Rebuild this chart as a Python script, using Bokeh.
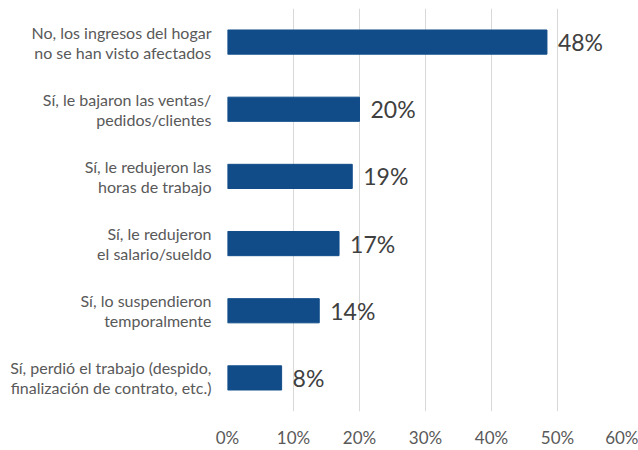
from bokeh.plotting import figure
from bokeh.models import Range1d, FactorRange, FixedTicker, ColumnDataSource
from bokeh.core.properties import value
from bokeh.embed import file_html
from bokeh.resources import INLINE

categories = [
    "No, los ingresos del hogar\nno se han visto afectados",
    "Sí, le bajaron las ventas/\npedidos/clientes",
    "Sí, le redujeron las\nhoras de trabajo",
    "Sí, le redujeron\nel salario/sueldo",
    "Sí, lo suspendieron\ntemporalmente",
    "Sí, perdió el trabajo (despido,\nfinalización de contrato, etc.)",
]
values = [48.4, 20.0, 18.9, 16.9, 13.9, 8.2]
value_labels = ["48%", "20%", "19%", "17%", "14%", "8%"]
x_ticks = [0, 10, 20, 30, 40, 50, 60]
x_tick_labels = ["0%", "10%", "20%", "30%", "40%", "50%", "60%"]

FONT = "Lato"

src = ColumnDataSource(dict(cat=categories, val=values, lab=value_labels))

p = figure(
    width=638, height=450,
    y_range=FactorRange(*reversed(categories)),
    x_range=Range1d(0, 60),
    output_backend="svg", toolbar_location=None,
    min_border_left=227, min_border_right=15, min_border_top=8, min_border_bottom=39,
)
p.outline_line_color = None
p.background_fill_color = "white"
p.border_fill_color = "white"

p.hbar(y="cat", right="val", left=0, height=0.36, source=src,
       fill_color="#114C89", line_color="#114C89")

p.text(x="val", y="cat", text="lab", source=src, x_offset=11,
       text_font=value(FONT), text_font_size="23px", text_color="#404040",
       text_align="left", text_baseline="middle")

p.xgrid.ticker = FixedTicker(ticks=x_ticks)
p.xgrid.grid_line_color = "#D9D9D9"
p.xgrid.grid_line_width = 1
p.ygrid.grid_line_color = None

p.xaxis.ticker = FixedTicker(ticks=x_ticks)
p.xaxis.major_label_overrides = {t: l for t, l in zip(x_ticks, x_tick_labels)}
p.xaxis.axis_line_color = None
p.xaxis.major_tick_line_color = None
p.xaxis.minor_tick_line_color = None
p.xaxis.major_label_text_font = FONT
p.xaxis.major_label_text_font_size = "17px"
p.xaxis.major_label_text_color = "#595959"
p.xaxis.major_label_standoff = 9

p.yaxis.axis_line_color = None
p.yaxis.major_tick_line_color = None
p.yaxis.minor_tick_line_color = None
p.yaxis.major_label_text_font = FONT
p.yaxis.major_label_text_font_size = "16px"
p.yaxis.major_label_text_line_height = 1.05
p.yaxis.major_label_text_color = "#595959"
p.yaxis.major_label_standoff = 10

open("out.html", "w").write(file_html(p, INLINE))
